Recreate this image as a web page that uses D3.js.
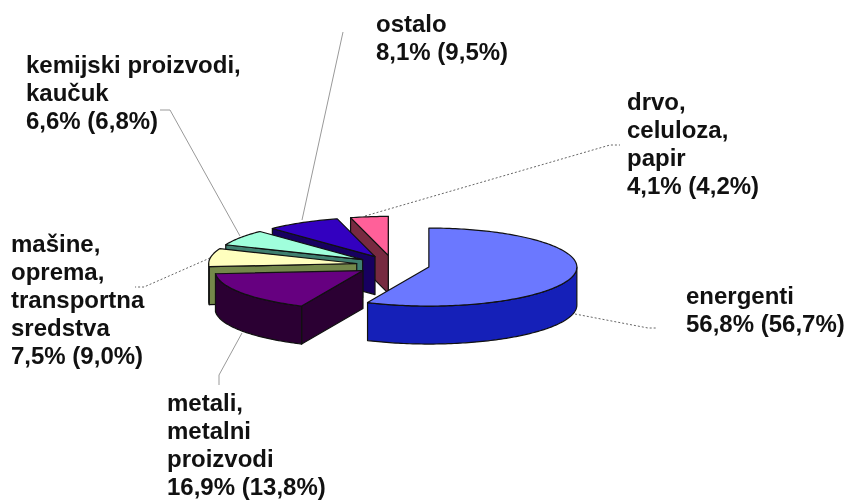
<!DOCTYPE html>
<html>
<head>
  <title>Pie</title>
  <script src="https://d3js.org/d3.v7.min.js"></script>
  <style>
    html, body { margin: 0; background: #fff; }
    svg { filter: blur(0.4px); display: block; }
    text { font-family: "Liberation Sans", Arial, sans-serif; font-size: 24px; font-weight: bold; fill: #111; }
  </style>
</head>
<body>
<div id="chart"></div>
<script>
const names = ["energenti", "metali", "masine", "kemijski", "ostalo", "drvo"];
const shares = [56.8, 16.9, 7.5, 6.6, 8.1, 4.1];
const topColors = ["#6b78ff", "#660080", "#ffffbe", "#a0ffdc", "#3300c0", "#ff6099"];
const sideColors = ["#1520b8", "#2b0033", "#74884a", "#3f7f6f", "#170060", "#772a40"];

const labelLines = [
  ["energenti", "56,8% (56,7%)"],
  ["metali,", "metalni", "proizvodi", "16,9% (13,8%)"],
  ["mašine,", "oprema,", "transportna", "sredstva", "7,5% (9,0%)"],
  ["kemijski proizvodi,", "kaučuk", "6,6% (6,8%)"],
  ["ostalo", "8,1% (9,5%)"],
  ["drvo,", "celuloza,", "papir", "4,1% (4,2%)"]
];
const labelX = [686, 167, 11, 26, 376, 627];
const labelY = [304, 411, 252, 73, 32, 110];
const lineGap = 28;

// leader lines, dashed ones are the dotted looking lines in the picture
const leaders = [
  { pts: [[575, 314], [648, 328], [657, 328]], dash: "2,2" },
  { pts: [[242, 333], [219, 375], [219, 385]], dash: null },
  { pts: [[210, 258], [144, 287], [135, 287]], dash: "2,2" },
  { pts: [[240, 236], [170, 110], [160, 110]], dash: null },
  { pts: [[302, 220], [343, 32]], dash: null },
  { pts: [[365, 216], [610, 145], [620, 145]], dash: "2,2" }
];

const width = 848, height = 500;
const cx = 393, cy = 265, rx = 148, ry = 39, depth = 38, explode = 36.7;

const svg = d3.select("#chart").append("svg")
  .attr("width", width).attr("height", height);

// unit circle -> flattened screen ellipse
const sx = d3.scaleLinear().domain([-1, 1]).range([cx - rx, cx + rx]);
const sy = d3.scaleLinear().domain([-1, 1]).range([cy - ry, cy + ry]);

const pie = d3.pie().sort(null)(shares);
const line = d3.line();

function rimPoint(a) { return [Math.sin(a), -Math.cos(a)]; }

const leaderG = svg.append("g");
const g = svg.append("g");

leaders.forEach(l => {
  leaderG.append("path")
    .attr("d", line(l.pts))
    .attr("fill", "none")
    .attr("stroke", l.dash ? "#666" : "#999")
    .attr("stroke-width", 1)
    .attr("stroke-dasharray", l.dash);
});

// back slices first, energenti last
[5, 4, 3, 2, 1, 0].forEach(i => {
  const p = pie[i];
  const mid = (p.startAngle + p.endAngle) / 2;
  const off = rimPoint(mid);
  const ox = x => sx(x) + explode * off[0];
  const oy = y => sy(y) + explode * off[1] * ry / rx;
  const proj = u => [ox(u[0]), oy(u[1])];
  const down = q => [q[0], q[1] + depth];
  const c = proj([0, 0]);
  const slice = g.append("g");
  const face = (pts, fill) => slice.append("path")
    .attr("d", line(pts) + "Z")
    .attr("fill", fill)
    .attr("stroke", "#111")
    .attr("stroke-width", 1.2)
    .attr("stroke-linejoin", "round");

  // cut faces, only when they look toward the viewer
  if (Math.sin(p.endAngle) > 0) {
    const e = proj(rimPoint(p.endAngle));
    face([c, e, down(e), down(c)], sideColors[i]);
  }
  if (-Math.sin(p.startAngle) > 0) {
    const s = proj(rimPoint(p.startAngle));
    face([c, s, down(s), down(c)], sideColors[i]);
  }
  // outer wall, front half only
  const a0 = Math.max(p.startAngle, Math.PI / 2);
  const a1 = Math.min(p.endAngle, Math.PI * 1.5);
  if (a1 > a0) {
    const arc = d3.range(a0, a1, 0.02).concat([a1]).map(a => proj(rimPoint(a)));
    face(arc.concat(arc.map(down).reverse()), sideColors[i]);
  }
  // top
  const rim = d3.range(p.startAngle, p.endAngle, 0.02).concat([p.endAngle]).map(a => proj(rimPoint(a)));
  face([c].concat(rim), topColors[i]);
});

labelLines.forEach((lines, i) => {
  const t = svg.append("text").attr("x", labelX[i]).attr("y", labelY[i]);
  lines.forEach((s, k) => {
    t.append("tspan").attr("x", labelX[i]).attr("y", labelY[i] + k * lineGap).text(s);
  });
});
</script>
</body>
</html>
